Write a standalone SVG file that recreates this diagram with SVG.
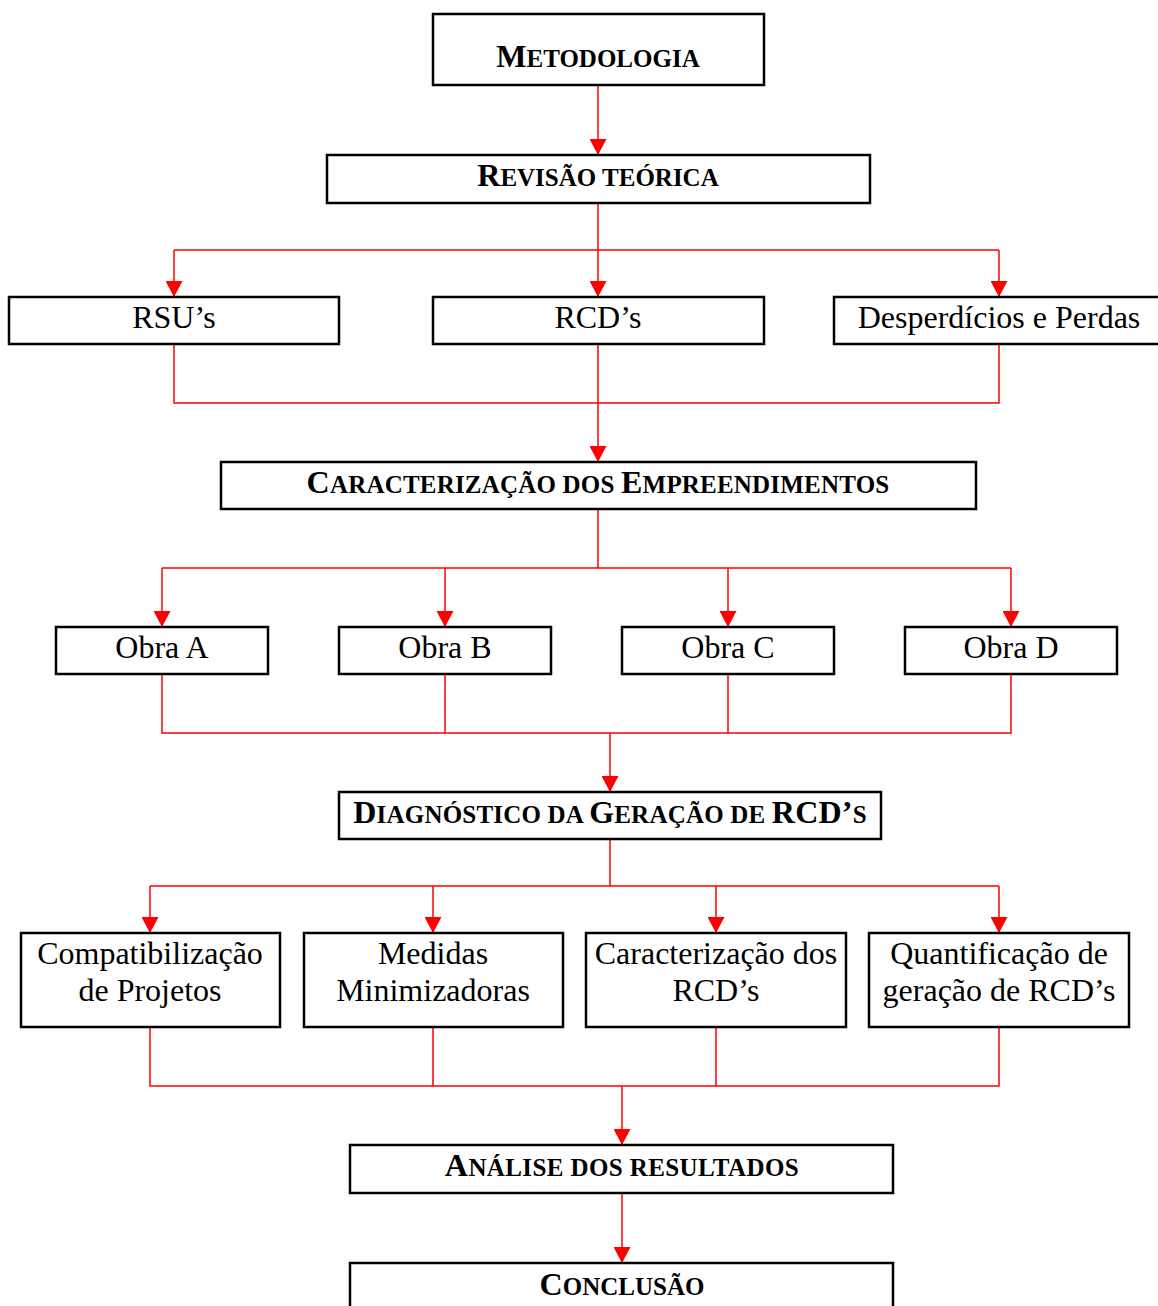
<svg xmlns="http://www.w3.org/2000/svg" width="1158" height="1306" viewBox="0 0 1158 1306">
  <style>
    .box { fill: #ffffff; stroke: #000000; stroke-width: 2.5; }
    .wire { fill: none; stroke: #ff0000; stroke-width: 1.5; }
    .t { font-family: "Liberation Serif", "Times New Roman", serif; font-size: 32px; fill: #000000; text-anchor: middle; }
    .b { font-weight: bold; }
    .sc { font-size: 25px; }
    .ls { letter-spacing: 0.2px; }
  </style>
  <defs>
    <marker id="arrow" markerUnits="userSpaceOnUse" markerWidth="18" markerHeight="17" refX="16" refY="8.5" orient="auto" viewBox="0 0 16 17">
      <path d="M0,0 L16,8.5 L0,17 Z" fill="#ff0000"/>
    </marker>
  </defs>

  <!-- connectors -->
  <g id="connectors">
    <line class="wire" x1="598" y1="85" x2="598" y2="155" marker-end="url(#arrow)"/>

    <path class="wire" d="M598,203 V250 M174,250 H999"/>
    <line class="wire" x1="174" y1="250" x2="174" y2="297" marker-end="url(#arrow)"/>
    <line class="wire" x1="598" y1="250" x2="598" y2="297" marker-end="url(#arrow)"/>
    <line class="wire" x1="999" y1="250" x2="999" y2="297" marker-end="url(#arrow)"/>

    <path class="wire" d="M174,344 V403 H999 V344 M598,344 V403"/>
    <line class="wire" x1="598" y1="403" x2="598" y2="462" marker-end="url(#arrow)"/>

    <path class="wire" d="M598,509 V568 M162,568 H1011"/>
    <line class="wire" x1="162" y1="568" x2="162" y2="627" marker-end="url(#arrow)"/>
    <line class="wire" x1="445" y1="568" x2="445" y2="627" marker-end="url(#arrow)"/>
    <line class="wire" x1="728" y1="568" x2="728" y2="627" marker-end="url(#arrow)"/>
    <line class="wire" x1="1011" y1="568" x2="1011" y2="627" marker-end="url(#arrow)"/>

    <path class="wire" d="M162,674 V733 H1011 V674 M445,674 V733 M728,674 V733"/>
    <line class="wire" x1="610" y1="733" x2="610" y2="792" marker-end="url(#arrow)"/>

    <path class="wire" d="M610,839 V886 M150,886 H999"/>
    <line class="wire" x1="150" y1="886" x2="150" y2="933" marker-end="url(#arrow)"/>
    <line class="wire" x1="433" y1="886" x2="433" y2="933" marker-end="url(#arrow)"/>
    <line class="wire" x1="716" y1="886" x2="716" y2="933" marker-end="url(#arrow)"/>
    <line class="wire" x1="999" y1="886" x2="999" y2="933" marker-end="url(#arrow)"/>

    <path class="wire" d="M150,1027 V1086 H999 V1027 M433,1027 V1086 M716,1027 V1086"/>
    <line class="wire" x1="622" y1="1086" x2="622" y2="1145" marker-end="url(#arrow)"/>

    <line class="wire" x1="622" y1="1193" x2="622" y2="1263" marker-end="url(#arrow)"/>
  </g>

  <!-- nodes -->
  <g id="metodologia">
    <rect class="box" x="433" y="14" width="331" height="71"/>
    <text class="t b" x="598" y="67">M<tspan class="sc">ETODOLOGIA</tspan></text>
  </g>
  <g id="revisao">
    <rect class="box" x="327" y="155" width="543" height="48"/>
    <text class="t b" x="598" y="186">R<tspan class="sc">EVISÃO TEÓRICA</tspan></text>
  </g>

  <g id="rsu">
    <rect class="box" x="9" y="297" width="330" height="47"/>
    <text class="t" x="174" y="328">RSU’s</text>
  </g>
  <g id="rcd">
    <rect class="box" x="433" y="297" width="331" height="47"/>
    <text class="t" x="598" y="328">RCD’s</text>
  </g>
  <g id="desperdicios">
    <rect class="box" x="834" y="297" width="330" height="47"/>
    <text class="t" x="999" y="328">Desperdícios e Perdas</text>
  </g>

  <g id="caracterizacao-empreendimentos">
    <rect class="box" x="221" y="462" width="755" height="47"/>
    <text class="t b ls" x="598" y="493">C<tspan class="sc">ARACTERIZAÇÃO DOS </tspan>E<tspan class="sc">MPREENDIMENTOS</tspan></text>
  </g>

  <g id="obra-a">
    <rect class="box" x="56" y="627" width="212" height="47"/>
    <text class="t" x="162" y="658">Obra A</text>
  </g>
  <g id="obra-b">
    <rect class="box" x="339" y="627" width="212" height="47"/>
    <text class="t" x="445" y="658">Obra B</text>
  </g>
  <g id="obra-c">
    <rect class="box" x="622" y="627" width="212" height="47"/>
    <text class="t" x="728" y="658">Obra C</text>
  </g>
  <g id="obra-d">
    <rect class="box" x="905" y="627" width="212" height="47"/>
    <text class="t" x="1011" y="658">Obra D</text>
  </g>

  <g id="diagnostico">
    <rect class="box" x="339" y="792" width="542" height="47"/>
    <text class="t b ls" x="610" y="823">D<tspan class="sc">IAGNÓSTICO DA </tspan>G<tspan class="sc">ERAÇÃO DE </tspan>RCD’<tspan class="sc">S</tspan></text>
  </g>

  <g id="compatibilizacao">
    <rect class="box" x="21" y="933" width="259" height="94"/>
    <text class="t" x="150" y="964">Compatibilização</text>
    <text class="t" x="150" y="1001">de Projetos</text>
  </g>
  <g id="medidas">
    <rect class="box" x="304" y="933" width="259" height="94"/>
    <text class="t" x="433" y="964">Medidas</text>
    <text class="t" x="433" y="1001">Minimizadoras</text>
  </g>
  <g id="caracterizacao-rcd">
    <rect class="box" x="586" y="933" width="260" height="94"/>
    <text class="t" x="716" y="964">Caracterização dos</text>
    <text class="t" x="716" y="1001">RCD’s</text>
  </g>
  <g id="quantificacao">
    <rect class="box" x="869" y="933" width="260" height="94"/>
    <text class="t" x="999" y="964">Quantificação de</text>
    <text class="t" x="999" y="1001">geração de RCD’s</text>
  </g>

  <g id="analise">
    <rect class="box" x="350" y="1145" width="543" height="48"/>
    <text class="t b" x="622" y="1176" style="letter-spacing:0.4px">A<tspan class="sc">NÁLISE DOS RESULTADOS</tspan></text>
  </g>
  <g id="conclusao">
    <rect class="box" x="350" y="1263" width="543" height="60"/>
    <text class="t b" x="622" y="1295">C<tspan class="sc">ONCLUSÃO</tspan></text>
  </g>
</svg>
